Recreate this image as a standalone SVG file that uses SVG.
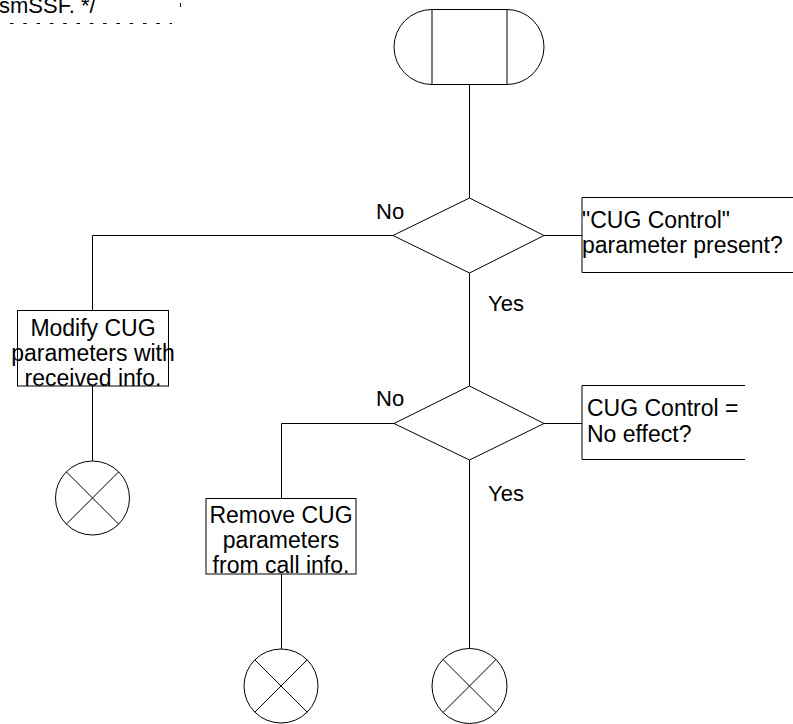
<svg xmlns="http://www.w3.org/2000/svg" width="793" height="724" viewBox="0 0 793 724">
<style>
.s{fill:none;stroke:#000;stroke-width:1}
.b{fill:#fff;stroke:#000;stroke-width:1}
.t{font-family:"Liberation Sans",Arial,sans-serif;font-size:23px;fill:#000}
.l{font-family:"Liberation Sans",Arial,sans-serif;font-size:22px;fill:#000}
.c{text-anchor:middle}
</style>
<rect width="793" height="724" fill="#fff"/>
<g id="comment">
<text class="l" x="-1" y="12.7">smSSF. */</text>
<line class="s" x1="10" y1="23.5" x2="172" y2="23.5" stroke-dasharray="3.5,9.8"/>
<line class="s" x1="180.5" y1="3" x2="180.5" y2="7"/>
</g>
<g id="connectors">
<line class="s" x1="469.5" y1="84" x2="469.5" y2="198"/>
<polyline class="s" points="393,235.5 92.5,235.5 92.5,310"/>
<line class="s" x1="92.5" y1="386" x2="92.5" y2="461"/>
<line class="s" x1="544" y1="235.5" x2="582" y2="235.5"/>
<line class="s" x1="469.5" y1="273" x2="469.5" y2="386"/>
<polyline class="s" points="394,423.5 281.5,423.5 281.5,498"/>
<line class="s" x1="281.5" y1="574" x2="281.5" y2="649"/>
<line class="s" x1="544" y1="423.5" x2="582" y2="423.5"/>
<line class="s" x1="469.5" y1="460" x2="469.5" y2="649"/>
</g>
<g id="start">
<rect class="b" x="432" y="9.5" width="75" height="75"/>
<path class="s" d="M432,9.5 A38,37.5 0 0 0 432,84.5"/>
<path class="s" d="M507,9.5 A37,37.5 0 0 1 507,84.5"/>
</g>
<g id="decision1">
<polygon class="b" points="469.5,198 544,235.5 469.5,273 393,235.5"/>
<text class="l" x="376" y="219.3">No</text>
<text class="l" x="488" y="311">Yes</text>
</g>
<g id="comment1">
<polyline class="s" points="800,197.5 582,197.5 582,272.5 800,272.5"/>
<text class="t" x="582" y="228">"CUG Control"</text>
<text class="t" x="582" y="253">parameter present?</text>
</g>
<g id="modify">
<rect class="b" x="17.5" y="310.5" width="151" height="75.5"/>
<text class="t c" x="93" y="336">Modify CUG</text>
<text class="t c" x="93" y="361">parameters with</text>
<text class="t c" x="93" y="386">received info.</text>
</g>
<g id="stop1">
<circle class="b" cx="92.5" cy="498" r="37"/>
<path class="s" d="M66.3,471.8 L118.7,524.2 M118.7,471.8 L66.3,524.2"/>
</g>
<g id="decision2">
<polygon class="b" points="469.5,386 544,423.5 469.5,460 394,423.5"/>
<text class="l" x="376" y="406">No</text>
<text class="l" x="488" y="500.7">Yes</text>
</g>
<g id="comment2">
<polyline class="s" points="745,385.5 582,385.5 582,459.5 745,459.5"/>
<text class="t" x="587" y="416">CUG Control =</text>
<text class="t" x="587" y="441.7">No effect?</text>
</g>
<g id="remove">
<rect class="b" x="206" y="498.5" width="150" height="75.5"/>
<text class="t c" x="281" y="523.3">Remove CUG</text>
<text class="t c" x="281" y="548.3">parameters</text>
<text class="t c" x="281" y="573.3">from call info.</text>
</g>
<g id="stop2">
<circle class="b" cx="281" cy="686" r="37"/>
<path class="s" d="M254.8,659.8 L307.2,712.2 M307.2,659.8 L254.8,712.2"/>
</g>
<g id="stop3">
<circle class="b" cx="469.5" cy="686" r="37.5"/>
<path class="s" d="M443,659.5 L496,712.5 M496,659.5 L443,712.5"/>
</g>
</svg>
